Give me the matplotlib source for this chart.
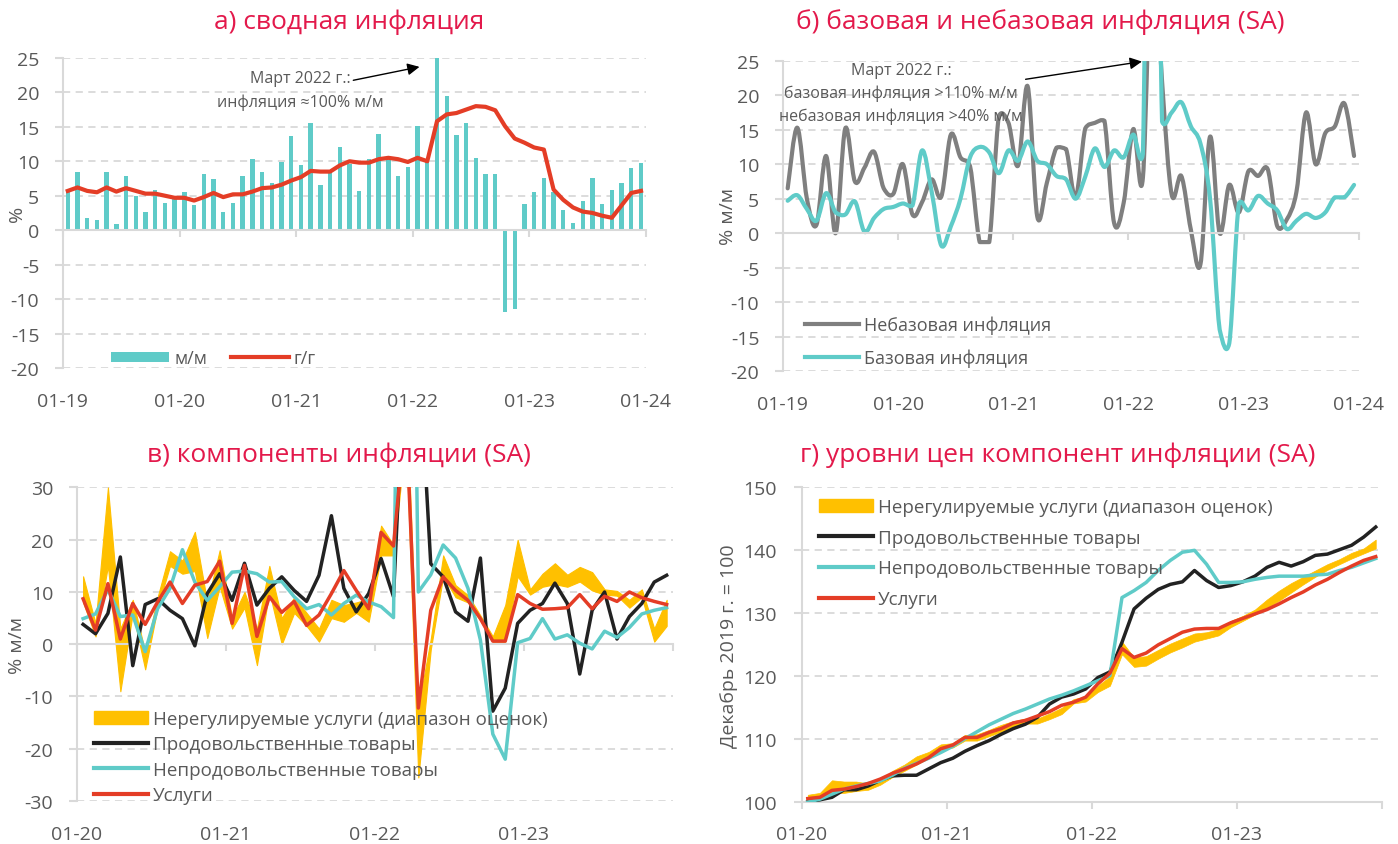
import matplotlib
matplotlib.use('Agg')

import numpy as np
import matplotlib.pyplot as plt
from matplotlib.path import Path
from matplotlib.patches import PathPatch
from matplotlib.lines import Line2D

plt.rcParams['font.family'] = ['Open Sans', 'DejaVu Sans']
plt.rcParams['axes.unicode_minus'] = False

# --- data ---
# a) headline inflation, Jan 2019 - Dec 2023
mm = [5.7, 8.5, 1.8, 1.5, 8.5, 0.9, 7.9, 5.0, 2.6, 5.9, 4.0, 4.7,
      5.6, 3.6, 8.2, 7.4, 2.6, 4.0, 7.9, 10.4, 8.4, 6.8, 9.9, 13.6,
      9.4, 15.6, 6.6, 8.5, 12.0, 9.6, 5.7, 10.4, 13.9, 10.2, 7.8, 9.2,
      15.1, 9.9, 100.0, 19.5, 13.8, 15.6, 10.5, 8.2, 8.2, -11.8, -11.4, 3.8,
      5.5, 7.6, 5.5, 2.9, 1.1, 4.2, 7.5, 3.8, 5.8, 6.9, 9.0, 9.7]
yy = [5.7, 6.2, 5.7, 5.5, 6.2, 5.6, 6.1, 5.7, 5.3, 5.3, 5.0, 4.7,
      4.7, 4.3, 4.8, 5.4, 4.8, 5.2, 5.2, 5.6, 6.1, 6.2, 6.6, 7.2,
      7.7, 8.6, 8.5, 8.5, 9.4, 10.0, 9.8, 9.8, 10.3, 10.5, 10.3, 9.9,
      10.5, 10.0, 15.8, 16.8, 17.0, 17.5, 18.0, 17.9, 17.4, 15.1, 13.3, 12.7,
      12.0, 11.7, 5.9, 4.4, 3.3, 2.7, 2.5, 2.1, 1.8, 3.6, 5.4, 5.7]

# b) core / non-core, SA % m/m
noncore = [6.5, 15.3, 5.0, 1.2, 11.2, 0.0, 15.2, 7.5, 9.5, 11.8, 6.5, 5.7,
           10.0, 2.7, 4.5, 7.8, 5.3, 14.3, 11.0, 9.7, -1.3, -1.3, 17.0, 16.0,
           9.8, 21.3, 2.4, 7.3, 12.4, 12.2, 5.2, 15.2, 16.0, 16.3, 1.5, 4.4,
           15.1, 8.0, 45.0, 22.0, 5.6, 8.3, 0.5, -4.5, 14.0, 0.0, 7.0, 3.0,
           9.0, 8.3, 9.3, 1.0, 2.0, 6.0, 17.5, 10.0, 14.5, 15.5, 18.8, 11.2]
core = [4.7, 5.5, 3.5, 1.8, 5.8, 3.0, 2.7, 4.6, 0.2, 2.2, 3.5, 3.8,
        4.3, 4.0, 12.0, 6.0, -1.8, 1.0, 5.0, 11.0, 12.5, 11.7, 8.7, 12.0,
        10.5, 13.3, 10.5, 10.0, 8.3, 7.8, 5.0, 8.2, 12.3, 9.6, 12.0, 11.0,
        14.3, 11.5, 115.0, 16.2, 17.5, 19.0, 15.5, 13.0, 5.0, -14.0, -16.0, 4.3,
        3.3, 5.4, 4.3, 3.3, 0.6, 1.8, 2.8, 2.2, 3.0, 5.2, 5.2, 7.0]

# c) components, SA % m/m, Jan 2020 - Dec 2023
food = [3.8, 2.0, 5.9, 16.7, -4.1, 7.6, 8.7, 6.5, 4.9, -0.3, 9.7, 13.5,
        8.4, 15.5, 7.5, 10.7, 12.9, 10.3, 8.2, 13.2, 24.6, 10.7, 6.2, 9.7,
        16.4, 9.1, 60.0, 58.0, 15.4, 12.9, 6.2, 4.4, 16.5, -12.8, -8.4, 4.0,
        6.5, 7.8, 11.7, 7.8, -5.7, 6.5, 10.0, 1.0, 5.3, 7.8, 11.9, 13.2]
nonfood = [4.9, 5.8, 10.5, 5.3, 5.6, -1.4, 6.8, 10.7, 18.1, 11.9, 8.4, 11.0,
           13.8, 14.0, 13.5, 11.9, 12.0, 9.1, 6.8, 7.6, 5.6, 7.8, 9.4, 8.1,
           7.2, 5.1, 180.0, 10.0, 13.3, 19.0, 16.5, 10.7, 0.8, -17.2, -22.0, 0.3,
           1.1, 4.9, 1.0, 1.8, 0.2, -0.9, 2.5, 1.3, 3.2, 5.8, 6.5, 7.0]
services = [8.7, 2.7, 11.6, 1.0, 7.8, 3.8, 8.1, 11.9, 7.8, 11.3, 12.0, 15.9,
            4.0, 15.1, 1.5, 9.1, 6.1, 8.2, 3.6, 5.6, 9.7, 14.1, 10.3, 6.8,
            21.4, 18.8, 44.0, -12.2, 6.5, 12.9, 10.3, 8.4, 4.9, 0.6, 0.6, 9.5,
            7.8, 6.7, 6.8, 7.0, 9.5, 6.8, 9.2, 8.2, 10.0, 8.9, 8.2, 7.6]
unreg_lo = [8.0, 1.5, 15.0, -9.0, 6.0, -4.8, 7.0, 15.0, 13.5, 14.0, 1.2, 11.0,
            3.0, 7.0, -4.0, 10.0, 0.0, 6.0, 3.5, 0.5, 5.0, 4.3, 6.0, 4.3,
            17.0, 17.0, 40.0, -25.5, -1.0, 13.0, 9.0, 8.0, 4.5, 0.5, 0.5, 13.0,
            9.5, 11.0, 11.5, 11.0, 12.0, 10.3, 9.5, 9.3, 7.0, 9.0, 0.5, 3.5]
unreg_hi = [13.0, 4.0, 30.0, 3.0, 8.5, -1.5, 9.0, 17.8, 16.0, 21.5, 8.0, 18.0,
            5.0, 10.0, 3.0, 15.0, 5.0, 9.0, 6.0, 3.0, 8.5, 7.5, 8.0, 8.7,
            22.7, 19.0, 50.0, -12.0, 1.0, 17.0, 11.3, 9.4, 5.5, 1.5, 7.5, 20.0,
            10.5, 13.5, 15.5, 13.3, 14.8, 13.8, 10.5, 10.2, 8.5, 10.5, 3.0, 8.5]

# d) price levels, Dec 2019 = 100
food_lvl = [100.1, 100.4, 100.8, 102.0, 102.0, 102.6, 103.5, 104.2, 104.3, 104.3, 105.3, 106.3,
            107.0, 108.1, 109.0, 109.8, 110.8, 111.7, 112.4, 113.5, 115.6, 116.7, 117.2, 118.0,
            119.8, 120.7, 125.4, 130.7, 132.4, 133.8, 134.6, 135.0, 136.8, 135.2, 134.1, 134.4,
            135.0, 135.9, 137.3, 138.1, 137.5, 138.2, 139.2, 139.4, 140.1, 140.8, 142.1, 143.7]
nonfood_lvl = [100.05, 100.5, 101.3, 102.1, 102.6, 103.0, 103.4, 104.3, 105.4, 106.2, 107.0, 107.9,
               108.9, 110.1, 111.2, 112.3, 113.2, 114.1, 114.8, 115.6, 116.4, 117.0, 117.7, 118.5,
               119.3, 120.1, 132.5, 133.6, 134.9, 136.8, 138.4, 139.7, 140.0, 137.8, 134.9, 134.9,
               135.0, 135.4, 135.7, 135.9, 135.9, 135.9, 136.1, 136.2, 136.8, 137.3, 138.0, 138.7]
svc_lvl = [100.6, 100.8, 101.9, 102.1, 102.5, 103.0, 103.7, 104.6, 105.3, 106.1, 107.1, 108.5,
           109.1, 110.3, 110.3, 111.1, 111.7, 112.6, 113.0, 113.7, 114.4, 115.4, 115.9, 116.7,
           118.8, 120.5, 124.4, 123.0, 123.7, 125.0, 126.0, 127.0, 127.5, 127.6, 127.6, 128.5,
           129.2, 129.9, 130.6, 131.5, 132.5, 133.4, 134.5, 135.4, 136.5, 137.5, 138.4, 139.0]
unreg_lvl_lo = [100.3, 100.6, 101.5, 101.5, 101.8, 102.0, 102.8, 104.0, 105.0, 106.0, 107.0, 108.4,
                108.7, 109.8, 109.8, 110.5, 111.2, 112.0, 112.5, 112.5, 113.2, 114.0, 115.7, 116.0,
                117.5, 118.5, 123.5, 121.5, 121.7, 122.8, 123.8, 124.6, 125.5, 126.0, 126.5, 127.8,
                128.8, 129.8, 130.9, 132.0, 133.3, 134.6, 135.8, 136.9, 137.8, 138.7, 139.5, 140.3]
unreg_lvl_hi = [101.2, 101.5, 103.5, 103.3, 103.3, 103.0, 103.6, 105.0, 106.0, 107.3, 108.0, 109.2,
                109.4, 110.7, 110.8, 111.5, 112.3, 112.9, 113.3, 113.3, 114.1, 115.0, 116.4, 116.8,
                118.5, 120.0, 125.5, 123.0, 123.2, 124.2, 125.2, 126.0, 126.8, 127.0, 127.5, 128.8,
                129.6, 130.6, 132.2, 133.6, 134.8, 135.8, 136.8, 137.8, 138.6, 139.6, 140.3, 141.7]

labels_a = ['01-19', '01-20', '01-21', '01-22', '01-23', '01-24']
labels_c = ['01-20', '01-21', '01-22', '01-23', '']

# --- colors ---
TEAL = '#5FCBC8'
RED = '#E43D26'
GREY = '#7F7F7F'
BLACK = '#222222'
YELLOW = '#FFC000'
GRID = '#D9D9D9'
TXT = '#595959'
TITLE = '#E3194B'
FS = 14      # tick labels
LFS = 13     # legends


def smooth_patch(ax, x, y, color, lw):
    # excel style smoothed line: bezier through the points, control points
    # kept within the rise of each segment so spikes don't overshoot much
    x = np.asarray(x, float)
    y = np.asarray(y, float)
    n = len(x)
    verts = [(x[0], y[0])]
    codes = [Path.MOVETO]
    for i in range(n - 1):
        p0 = max(i - 1, 0)
        p3 = min(i + 2, n - 1)
        rise = abs(y[i + 1] - y[i])
        d1 = np.clip((y[i + 1] - y[p0]) / 6, -rise, rise)
        d2 = np.clip((y[p3] - y[i]) / 6, -rise, rise)
        c1 = (x[i] + (x[i + 1] - x[p0]) / 6, y[i] + d1)
        c2 = (x[i + 1] - (x[p3] - x[i]) / 6, y[i + 1] - d2)
        verts += [c1, c2, (x[i + 1], y[i + 1])]
        codes += [Path.CURVE4] * 3
    ax.add_patch(PathPatch(Path(verts, codes), fill=False, edgecolor=color,
                           lw=lw, capstyle='round', joinstyle='round'))


def style_zero_axis(ax, ticks, labels, ylim, yticks):
    ax.set_ylim(*ylim)
    ax.set_yticks(yticks)
    ax.set_xlim(ticks[0], ticks[-1])
    for s in ['top', 'right']:
        ax.spines[s].set_visible(False)
    ax.spines['left'].set_color(GRID)
    ax.spines['left'].set_linewidth(1.5)
    ax.spines['bottom'].set_position(('data', 0))
    ax.spines['bottom'].set_color(GRID)
    ax.spines['bottom'].set_linewidth(1.5)
    ax.set_xticks(ticks)
    ax.tick_params(axis='x', length=5, width=1.5, color=GRID, labelbottom=False)
    ax.tick_params(axis='y', length=6, width=1.5, color=GRID, labelsize=FS,
                   labelcolor=TXT, pad=11)
    ax.yaxis.grid(True, linestyle=(0, (4, 3)), color=GRID, lw=1.3)
    ax.set_axisbelow(True)
    sec = ax.secondary_xaxis('bottom')
    sec.set_xticks(ticks, labels)
    sec.tick_params(length=0, labelsize=FS, labelcolor=TXT, pad=17)
    sec.spines['bottom'].set_visible(False)


fig = plt.figure(figsize=(13.98, 8.45), dpi=100)
ax_a = fig.add_axes([0.045, 0.5633, 0.417, 0.367])
ax_b = fig.add_axes([0.560, 0.5598, 0.412, 0.367])
ax_c = fig.add_axes([0.055, 0.0509, 0.4263, 0.371])
ax_d = fig.add_axes([0.5735, 0.0493, 0.4149, 0.3728])

# --- a) ---
xa = np.arange(len(mm)) + 0.5
bars = ax_a.bar(xa, mm, width=0.45, color=TEAL, zorder=2)
line_a, = ax_a.plot(xa, yy, color=RED, lw=3, solid_joinstyle='round', zorder=3)
style_zero_axis(ax_a, np.arange(0, 61, 12), labels_a, (-20, 25), np.arange(-20, 26, 5))
ax_a.set_ylabel('%', fontsize=FS, color=TXT)
ax_a.yaxis.set_label_coords(-0.064, 0.5)
ax_a.annotate('Март 2022 г.:\nинфляция ≈100% м/м', xy=(36.7, 23.7), xytext=(24.4, 20.3),
              ha='center', va='center', fontsize=11.5, color=TXT, linespacing=1.6,
              arrowprops=dict(arrowstyle='-|>', color='black', lw=1, mutation_scale=18,
                              shrinkA=0, shrinkB=0, patchA=None, relpos=(0.82, 0.75)))
ax_a.legend([bars, line_a], ['м/м', 'г/г'], loc='lower left', bbox_to_anchor=(0.055, -0.05),
            ncol=2, frameon=False, fontsize=LFS, labelcolor=TXT, handlelength=3.2,
            handletextpad=0.3, columnspacing=1.3, handleheight=0.5)

# --- b) ---
xb = np.arange(len(core)) + 0.5
smooth_patch(ax_b, xb, noncore, GREY, 3)
smooth_patch(ax_b, xb, core, TEAL, 3)
style_zero_axis(ax_b, np.arange(0, 61, 12), labels_a, (-20, 25), np.arange(-20, 26, 5))
ax_b.set_ylabel('% м/м', fontsize=FS, color=TXT)
ax_b.yaxis.set_label_coords(-0.080, 0.5)
ax_b.annotate('Март 2022 г.:\nбазовая инфляция >110% м/м\nнебазовая инфляция >40% м/м',
              xy=(37.4, 24.9), xytext=(12.3, 20.3),
              ha='center', va='center', fontsize=11.5, color=TXT, linespacing=1.5,
              arrowprops=dict(arrowstyle='-|>', color='black', lw=1, mutation_scale=18,
                              shrinkA=0, shrinkB=0, relpos=(1.0, 0.72)))
hb = [Line2D([], [], color=GREY, lw=3), Line2D([], [], color=TEAL, lw=3)]
ax_b.legend(hb, ['Небазовая инфляция', 'Базовая инфляция'], loc='lower left',
            bbox_to_anchor=(0.01, -0.04), frameon=False, fontsize=LFS, labelcolor=TXT,
            handlelength=3.0, handletextpad=0.3, labelspacing=0.8)

# --- c) ---
xc = np.arange(len(food)) + 0.5
ax_c.fill_between(xc, unreg_lo, unreg_hi, color=YELLOW, lw=0.8, edgecolor=YELLOW, zorder=2)
ax_c.plot(xc, food, color=BLACK, lw=2.5, zorder=3)
ax_c.plot(xc, nonfood, color=TEAL, lw=2.5, zorder=3)
ax_c.plot(xc, services, color=RED, lw=2.5, zorder=4)
style_zero_axis(ax_c, np.arange(0, 49, 12), labels_c, (-30, 30), np.arange(-30, 31, 10))
ax_c.set_ylabel('% м/м', fontsize=FS, color=TXT)
ax_c.yaxis.set_label_coords(-0.086, 0.5)
hc = [plt.Rectangle((0, 0), 1, 1, color=YELLOW), Line2D([], [], color=BLACK, lw=3),
      Line2D([], [], color=TEAL, lw=3), Line2D([], [], color=RED, lw=3)]
names = ['Нерегулируемые услуги (диапазон оценок)', 'Продовольственные товары',
         'Непродовольственные товары', 'Услуги']
ax_c.legend(hc, names, loc='lower left', bbox_to_anchor=(0.0, -0.065), frameon=False,
            fontsize=13.5, labelcolor=TXT, handlelength=2.9, handletextpad=0.25,
            labelspacing=0.4, handleheight=0.7)

# --- d) ---
xd = np.arange(len(food_lvl)) + 0.5
ax_d.fill_between(xd, unreg_lvl_lo, unreg_lvl_hi, color=YELLOW, lw=0.5, edgecolor=YELLOW, zorder=2)
ax_d.plot(xd, food_lvl, color=BLACK, lw=2.5, zorder=3)
ax_d.plot(xd, nonfood_lvl, color=TEAL, lw=2.5, zorder=3)
ax_d.plot(xd, svc_lvl, color=RED, lw=2.5, zorder=4)
ax_d.set_xlim(0, 48)
ax_d.set_ylim(100, 150)
ax_d.set_yticks(np.arange(100, 151, 10))
ax_d.set_xticks(np.arange(0, 49, 12), labels_c)
for s in ['top', 'right']:
    ax_d.spines[s].set_visible(False)
for s in ['left', 'bottom']:
    ax_d.spines[s].set_color(GRID)
    ax_d.spines[s].set_linewidth(1.5)
ax_d.tick_params(axis='x', length=5, width=1.5, color=GRID, labelsize=FS, labelcolor=TXT, pad=11)
ax_d.tick_params(axis='y', length=6, width=1.5, color=GRID, labelsize=FS, labelcolor=TXT, pad=12)
ax_d.yaxis.grid(True, linestyle=(0, (4, 3)), color=GRID, lw=1.3)
ax_d.set_axisbelow(True)
ax_d.set_ylabel('Декабрь 2019 г. = 100', fontsize=FS, color=TXT)
ax_d.yaxis.set_label_coords(-0.110, 0.5)
ax_d.legend(hc, names, loc='upper left', bbox_to_anchor=(0.0, 1.02), frameon=False,
            fontsize=13.5, labelcolor=TXT, handlelength=2.9, handletextpad=0.25,
            labelspacing=0.68, handleheight=0.7)

# --- titles ---
fig.text(349 / 1398, 1 - 22 / 845, 'а) сводная инфляция', ha='center', va='center',
         fontsize=19, color=TITLE)
fig.text(1040 / 1398, 1 - 22 / 845, 'б) базовая и небазовая инфляция (SA)', ha='center',
         va='center', fontsize=19, color=TITLE)
fig.text(339 / 1398, 1 - 455 / 845, 'в) компоненты инфляции (SA)', ha='center', va='center',
         fontsize=19, color=TITLE)
fig.text(1058 / 1398, 1 - 455 / 845, 'г) уровни цен компонент инфляции (SA)', ha='center',
         va='center', fontsize=19, color=TITLE)

fig.savefig('out.png', dpi=100)
